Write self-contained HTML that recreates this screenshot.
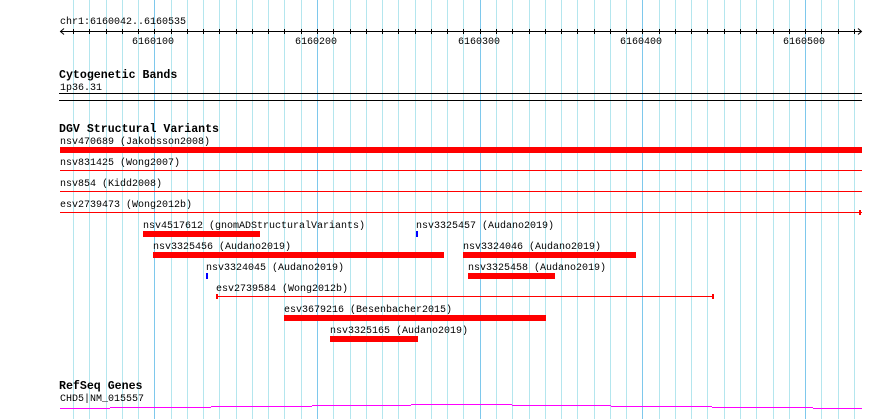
<!DOCTYPE html>
<html><head><meta charset="utf-8"><style>
html,body{margin:0;padding:0;background:#fff;width:890px;height:419px;overflow:hidden}
svg{display:block;shape-rendering:crispEdges}
text{font-family:"Liberation Mono",monospace;font-size:10px;fill:#000}
.h{font-weight:bold;font-size:11.6px}
</style></head><body>
<svg id="c" width="890" height="419"></svg>
<script>
const startBp = 6160042, endBp = 6160535;
const tickLabels = [6160100, 6160200, 6160300, 6160400, 6160500];
const svNames = ["nsv4517612 (gnomADStructuralVariants)","nsv3325457 (Audano2019)","nsv3325456 (Audano2019)","nsv3324046 (Audano2019)","nsv3324045 (Audano2019)","nsv3325458 (Audano2019)","esv2739584 (Wong2012b)","esv3679216 (Besenbacher2015)","nsv3325165 (Audano2019)"];
const svStart = [6160093,6160261,6160099,6160290,6160132,6160293,6160138,6160180,6160208];
const svEnd   = [6160165,6160261,6160278,6160396,6160132,6160346,6160444,6160341,6160262];
const svRow   = [0,0,1,1,2,2,3,4,5];
const svType  = ["bar","point","bar","bar","point","bar","line","bar","bar"];
const fullNames = ["nsv470689 (Jakobsson2008)","nsv831425 (Wong2007)","nsv854 (Kidd2008)","esv2739473 (Wong2012b)"];
const fullType = ["bar","line","line","linecap"];
const geneSteps = [[6160042,6160073],[6160073,6160135],[6160135,6160197],[6160197,6160258],[6160258,6160320],[6160320,6160381],[6160381,6160443],[6160443,6160505],[6160505,6160535]];
const geneLevel = [0,1,2,3,4,3,2,1,0];

const X0=60, X1=862;
const x = bp => Math.round(X0 + (bp-startBp)*(X1-X0)/(endBp-startBp));
const svg=document.getElementById('c');
const NS="http://www.w3.org/2000/svg";
function el(t,a,parent){const e=document.createElementNS(NS,t);for(const k in a)e.setAttribute(k,a[k]);(parent||svg).appendChild(e);return e;}
function txt(s,xx,yy,cls){const e=el('text',{x:xx,y:yy});if(cls)e.setAttribute('class',cls);e.textContent=s;return e;}

for(let b=Math.ceil(startBp/10)*10;b<=endBp;b+=10){
  const g=el('rect',{x:x(b),y:0,width:1,height:419,fill:b%100===0?'#7ec8ec':'#b4e6ee'});
  
  
}
const r=txt('chr1:6160042..6160535',60,24);

const ax=el('rect',{x:60,y:31,width:801,height:1,fill:'#000'});

el('path',{d:'M64 28.5 L60.5 31.5 L64 34.5 M858 28.5 L861.5 31.5 L858 34.5',stroke:'#000',fill:'none','shape-rendering':'auto'});
for(let b=Math.ceil(startBp/10)*10;b<=endBp;b+=10){
  el('rect',{x:x(b),y:29,width:1,height:5,fill:'#000'});
}
tickLabels.forEach(v=>{const t=txt(String(v),x(v)-22,44);});
const h1=txt('Cytogenetic Bands',59,78,'h');
txt('1p36.31',60,90);
el('rect',{x:59,y:93,width:803,height:1,fill:'#000'});
el('rect',{x:59,y:100,width:803,height:1,fill:'#000'});
const h2=txt('DGV Structural Variants',59,132,'h');
fullNames.forEach((n,i)=>{
  const y0=144+i*21;
  const t=txt(n,60,y0);
  let m;
  if(fullType[i]==='bar') m=el('rect',{x:X0,y:y0+3,width:X1-X0,height:6,fill:'#f00'});
  else m=el('rect',{x:X0,y:y0+5,width:X1-X0,height:1,fill:'#f00'});
  
  if(fullType[i]==='linecap') el('rect',{x:X1-3,y:y0+3,width:2,height:5,fill:'#f00'});
});
svNames.forEach((n,i)=>{
  const top=228+svRow[i]*21, xs=x(svStart[i]), xe=x(svEnd[i]);
  const t=txt(n,xs,top);
  let m;
  if(svType[i]==='bar') m=el('rect',{x:xs,y:top+3,width:xe-xs,height:6,fill:'#f00'});
  else if(svType[i]==='point') m=el('rect',{x:xs,y:top+3,width:2,height:6,fill:'#00f'});
  else { m=el('rect',{x:xs,y:top+5,width:xe-xs,height:1,fill:'#f00'});
    el('rect',{x:xs,y:top+3,width:2,height:5,fill:'#f00'});el('rect',{x:xe-2,y:top+3,width:2,height:5,fill:'#f00'}); }
  
});
const h3=txt('RefSeq Genes',59,389,'h');
txt('CHD5|NM_015557',60,401);
geneSteps.forEach((s,i)=>{
  const g=el('rect',{x:x(s[0]),y:408-geneLevel[i],width:x(s[1])-x(s[0]),height:1,fill:'#f0f'});
  
});
</script>
</body></html>
